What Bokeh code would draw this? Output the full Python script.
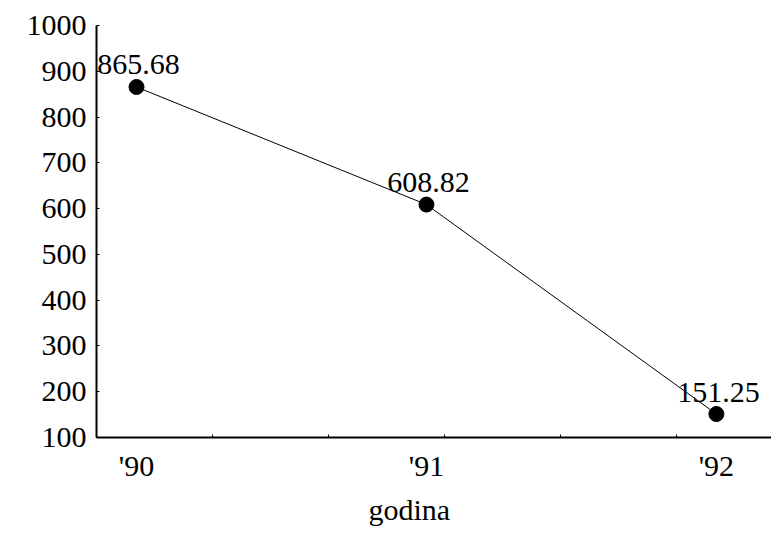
from bokeh.plotting import figure
from bokeh.models import FixedTicker, Range1d, Title, ColumnDataSource
from bokeh.core.properties import value
from bokeh.embed import file_html
from bokeh.resources import INLINE

# ---- data ----
years = [0, 1, 2]
year_labels = ["'90", "'91", "'92"]
values = [865.68, 608.82, 151.25]
value_labels = ["865.68", "608.82", "151.25"]
y_ticks = [100, 200, 300, 400, 500, 600, 700, 800, 900, 1000]
x_title = "godina"

FONT = "Liberation Serif"

x_start, x_end = -0.138, 2.19
p = figure(width=771, height=534, output_backend="svg", toolbar_location=None,
           x_range=Range1d(x_start, x_end), y_range=Range1d(100, 1000),
           min_border_left=96, min_border_right=0, min_border_top=25,
           min_border_bottom=97)
p.outline_line_color = None
p.grid.visible = False
p.background_fill_color = "white"
p.border_fill_color = "white"

src = ColumnDataSource(dict(x=years, y=values, lab=value_labels))
p.line("x", "y", source=src, line_color="black", line_width=1)
p.scatter("x", "y", source=src, size=15, fill_color="black", line_color="black")
p.text("x", "y", text="lab", source=src, text_align="center",
       text_baseline="alphabetic", x_offset=2, y_offset=-22,
       text_font=value(FONT), text_font_size="30px", text_color="black")

# x axis
minor = [x_start + 0.4 * k for k in range(1, 6)]
p.xaxis.ticker = FixedTicker(ticks=years, minor_ticks=minor)
p.xaxis.major_label_overrides = {y: l for y, l in zip(years, year_labels)}
p.xaxis.major_tick_in = 0
p.xaxis.major_tick_out = 0
p.xaxis.minor_tick_in = 3
p.xaxis.minor_tick_out = 0
p.xaxis.minor_tick_line_color = "black"
p.xaxis.major_label_standoff = 11
p.xaxis.major_label_text_font = FONT
p.xaxis.major_label_text_font_size = "30px"
p.xaxis.major_label_text_color = "black"
p.xaxis.axis_line_width = 2
p.xaxis.axis_line_color = "black"

# y axis
p.yaxis.ticker = FixedTicker(ticks=y_ticks, minor_ticks=[])
p.yaxis.major_tick_in = 3
p.yaxis.major_tick_out = 0
p.yaxis.major_tick_line_color = "black"
p.yaxis.major_label_standoff = 10
p.yaxis.major_label_text_font = FONT
p.yaxis.major_label_text_font_size = "30px"
p.yaxis.major_label_text_color = "black"
p.yaxis.axis_line_width = 2
p.yaxis.axis_line_color = "black"

# axis title (placed under the axis, left of centre as in the reference)
p.add_layout(Title(text=x_title, align="left", offset=272, standoff=12,
                   text_font=FONT, text_font_size="30px",
                   text_font_style="normal", text_color="black"), "below")

open("out.html", "w").write(file_html(p, INLINE))
